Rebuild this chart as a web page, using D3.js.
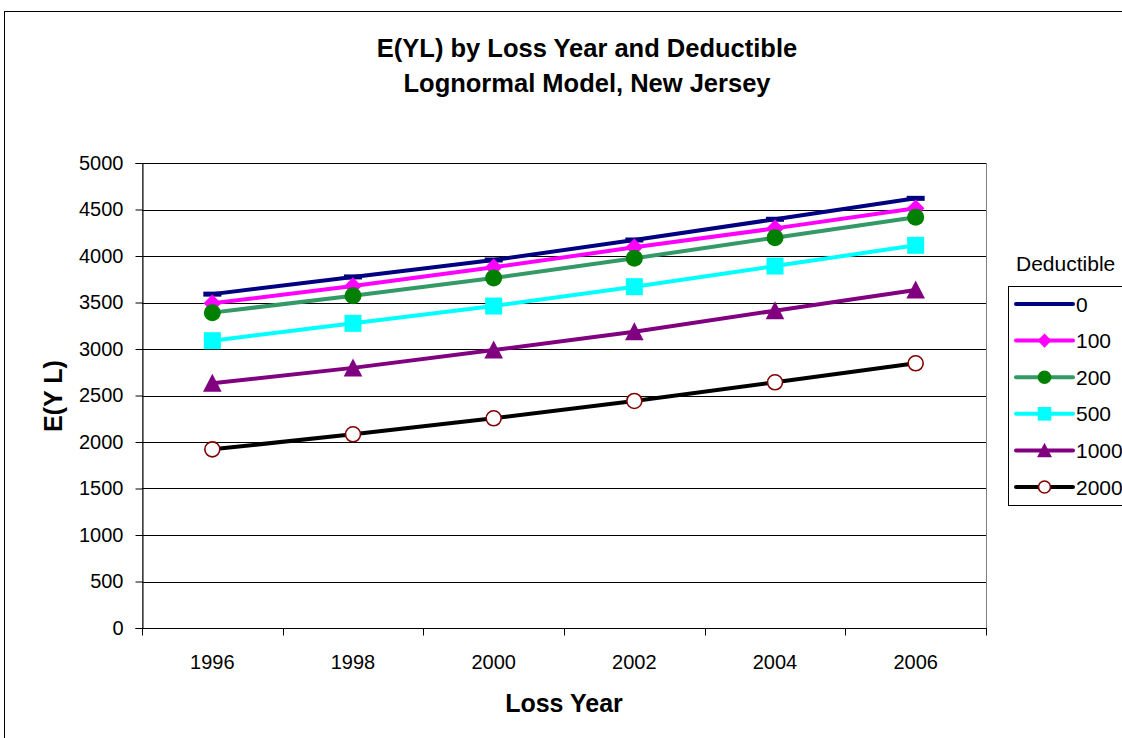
<!DOCTYPE html>
<html>
<head>
<meta charset="utf-8">
<script src="https://cdn.jsdelivr.net/npm/d3@7"></script>
<style>
  html, body { margin: 0; padding: 0; background: #fff; }
  svg { display: block; font-family: "Liberation Sans", Arial, sans-serif; }
</style>
</head>
<body>
<svg id="chart" width="1122" height="738"></svg>
<script>
// Loss years on the category axis
const years = ["1996", "1998", "2000", "2002", "2004", "2006"];
const yTicks = [0, 500, 1000, 1500, 2000, 2500, 3000, 3500, 4000, 4500, 5000];

// E(YL) for each deductible level
const ded0    = [3590, 3775, 3957, 4172, 4395, 4620];
const ded100  = [3491, 3677, 3878, 4093, 4297, 4513];
const ded200  = [3391, 3573, 3763, 3975, 4197, 4416];
const ded500  = [3089, 3276, 3462, 3670, 3892, 4115];
const ded1000 = [2631, 2797, 2989, 3186, 3412, 3634];
const ded2000 = [1921, 2083, 2255, 2441, 2642, 2846];

const series = [
  { name: "0",    values: ded0,    line: "#000080", marker: "dash",     fill: "#000080", stroke: "#000080" },
  { name: "100",  values: ded100,  line: "#FF00FF", marker: "diamond",  fill: "#FF00FF", stroke: "#FF00FF" },
  { name: "200",  values: ded200,  line: "#339966", marker: "circle",   fill: "#008000", stroke: "#008000" },
  { name: "500",  values: ded500,  line: "#00FFFF", marker: "square",   fill: "#00FFFF", stroke: "#00FFFF" },
  { name: "1000", values: ded1000, line: "#800080", marker: "triangle", fill: "#800080", stroke: "#800080" },
  { name: "2000", values: ded2000, line: "#000000", marker: "ocircle",  fill: "#FFFFFF", stroke: "#800000" }
];

const svg = d3.select("#chart");
const plot = { left: 142, right: 986, top: 163, bottom: 628 };

// Chart frame
svg.append("rect")
  .attr("x", 4.5).attr("y", 11.5)
  .attr("width", 1140).attr("height", 740)
  .attr("fill", "#fff").attr("stroke", "#000").attr("stroke-width", 1);

const x = d3.scaleBand().domain(years).range([plot.left, plot.right]);
const y = d3.scaleLinear().domain([0, 5000]).range([plot.bottom, plot.top]);

// Plot area outline (grey)
svg.append("rect")
  .attr("x", plot.left + 0.5).attr("y", plot.top + 0.5)
  .attr("width", plot.right - plot.left).attr("height", plot.bottom - plot.top)
  .attr("fill", "#fff").attr("stroke", "#808080").attr("stroke-width", 1);

// Horizontal gridlines
svg.append("g").selectAll("line")
  .data(yTicks.filter(d => d > 0))
  .join("line")
  .attr("x1", plot.left).attr("x2", plot.right)
  .attr("y1", d => Math.round(y(d)) + 0.5).attr("y2", d => Math.round(y(d)) + 0.5)
  .attr("stroke", "#000").attr("stroke-width", 1);

// Y axis
const yAxis = svg.append("g")
  .attr("transform", `translate(${plot.left + 0.5},0)`)
  .call(d3.axisLeft(y).tickValues(yTicks).tickSize(7).tickPadding(12).tickFormat(d3.format("d")));
yAxis.select(".domain").attr("stroke", "#000");
yAxis.selectAll(".tick line").attr("stroke", "#000");
yAxis.selectAll("text").attr("font-size", 20).attr("fill", "#000")
  .attr("font-family", "'Liberation Sans', Arial, sans-serif");

// X axis with ticks on category boundaries
const xg = svg.append("g").attr("transform", `translate(0,${plot.bottom + 0.5})`);
xg.append("line").attr("x1", plot.left).attr("x2", plot.right + 1)
  .attr("stroke", "#000").attr("stroke-width", 1);
const bounds = years.map(d => x(d)).concat([x(years[years.length - 1]) + x.bandwidth()]);
xg.selectAll("line.tk").data(bounds).join("line").attr("class", "tk")
  .attr("x1", d => Math.round(d) + 0.5).attr("x2", d => Math.round(d) + 0.5)
  .attr("y1", 0).attr("y2", 7).attr("stroke", "#000");
xg.selectAll("text").data(years).join("text")
  .attr("x", d => x(d) + x.bandwidth() / 2).attr("y", 40)
  .attr("text-anchor", "middle").attr("font-size", 20).attr("fill", "#000")
  .text(d => d);

// Titles
svg.append("text").attr("x", 587).attr("y", 57).attr("text-anchor", "middle")
  .attr("font-size", 25.5).attr("font-weight", "bold").text("E(YL) by Loss Year and Deductible");
svg.append("text").attr("x", 587).attr("y", 92).attr("text-anchor", "middle")
  .attr("font-size", 25.5).attr("font-weight", "bold").text("Lognormal Model, New Jersey");
svg.append("text").attr("x", 564).attr("y", 712).attr("text-anchor", "middle")
  .attr("font-size", 25).attr("font-weight", "bold").text("Loss Year");
svg.append("text").attr("transform", "translate(62,396) rotate(-90)").attr("text-anchor", "middle")
  .attr("font-size", 25).attr("font-weight", "bold").text("E(Y L)");

// Marker shapes
function drawMarker(g, type, cx, cy, s, scale = 1) {
  if (type === "dash") {
    g.append("rect").attr("x", cx - 9 * scale).attr("y", cy - 2.5).attr("width", 18 * scale).attr("height", 5)
      .attr("fill", s.fill);
  } else if (type === "diamond") {
    const r = 8.8 * scale;
    g.append("path").attr("d", `M${cx},${cy - r}L${cx + r},${cy}L${cx},${cy + r}L${cx - r},${cy}Z`)
      .attr("fill", s.fill);
  } else if (type === "circle") {
    g.append("circle").attr("cx", cx).attr("cy", cy).attr("r", 8.5 * scale).attr("fill", s.fill);
  } else if (type === "square") {
    const h = 8.5 * scale;
    g.append("rect").attr("x", cx - h).attr("y", cy - h).attr("width", 2 * h).attr("height", 2 * h)
      .attr("fill", s.fill);
  } else if (type === "triangle") {
    const h = 9.5 * scale;
    g.append("path").attr("d", `M${cx},${cy - h}L${cx + h * 0.98},${cy + h * 0.9}L${cx - h * 0.98},${cy + h * 0.9}Z`)
      .attr("fill", s.fill);
  } else if (type === "ocircle") {
    g.append("circle").attr("cx", cx).attr("cy", cy).attr("r", 7.5 * scale)
      .attr("fill", s.fill).attr("stroke", s.stroke).attr("stroke-width", 1.6);
  }
}

// Series lines and markers
const line = d3.line().x((d, i) => x(years[i]) + x.bandwidth() / 2).y(d => y(d));
series.forEach(s => {
  const g = svg.append("g");
  g.append("path").datum(s.values).attr("d", line)
    .attr("fill", "none").attr("stroke", s.line).attr("stroke-width", 4);
  s.values.forEach((v, i) => drawMarker(g, s.marker, x(years[i]) + x.bandwidth() / 2, y(v), s));
});

// Legend
svg.append("text").attr("x", 1016).attr("y", 271).attr("font-size", 21).text("Deductible");
svg.append("rect").attr("x", 1008.5).attr("y", 286.5).attr("width", 140).attr("height", 219)
  .attr("fill", "#fff").attr("stroke", "#000");
series.forEach((s, i) => {
  const cy = 304 + i * 36.6;
  const g = svg.append("g");
  g.append("line").attr("x1", 1016).attr("x2", 1073).attr("y1", cy).attr("y2", cy)
    .attr("stroke", s.line).attr("stroke-width", 4).attr("stroke-linecap", "round");
  if (s.marker !== "dash") drawMarker(g, s.marker, 1044.5, cy, s, 0.8);
  g.append("text").attr("x", 1076).attr("y", cy + 7.5).attr("font-size", 21).text(s.name);
});
</script>
</body>
</html>
